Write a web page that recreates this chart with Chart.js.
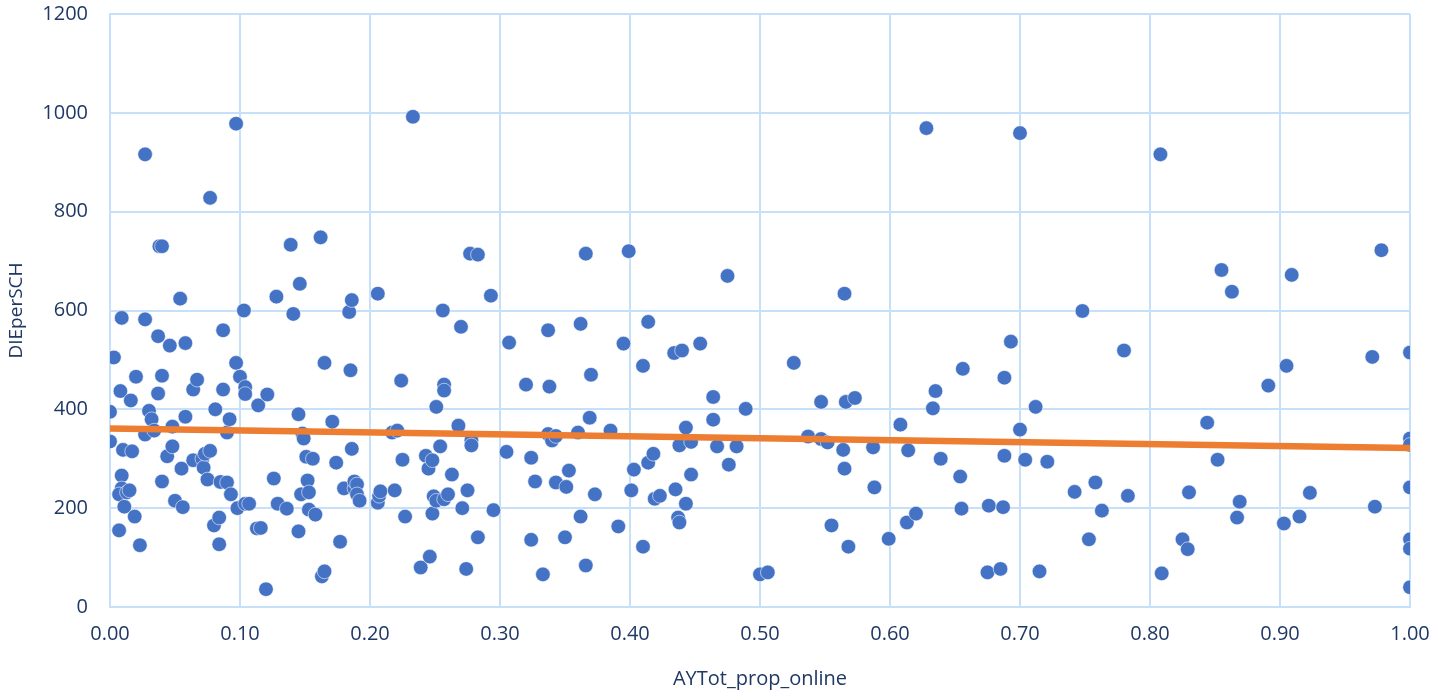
<!DOCTYPE html>
<html>
<head>
<meta charset="utf-8">
<script src="https://cdn.jsdelivr.net/npm/chart.js@4"></script>
<style>
  html, body { margin: 0; padding: 0; background: #fff; }
  #wrap { width: 1432px; height: 693px; }
</style>
</head>
<body>
<div id="wrap"><canvas id="chart" width="1432" height="693"></canvas></div>
<script>
// AYTot_prop_online values (x) and DIEperSCH values (y)
const propOnline = [
    0.000, 0.000, 0.003, 0.009, 0.008, 0.009, 0.007, 0.010, 0.009, 0.007, 0.011, 0.013, 0.015, 0.016, 0.017, 0.019, 0.020, 0.023, 0.027, 0.027,
    0.027, 0.030, 0.032, 0.034, 0.037, 0.037, 0.038, 0.040, 0.040, 0.040, 0.044, 0.046, 0.048, 0.048, 0.050, 0.054, 0.055, 0.056, 0.058, 0.058,
    0.064, 0.064, 0.067, 0.071, 0.072, 0.073, 0.075, 0.077, 0.077, 0.080, 0.081, 0.084, 0.084, 0.085, 0.087, 0.087, 0.090, 0.090, 0.092, 0.093,
    0.097, 0.097, 0.098,
    0.100, 0.103, 0.104, 0.104, 0.104, 0.107, 0.113, 0.114, 0.116, 0.120, 0.121, 0.126, 0.128, 0.129, 0.136, 0.139, 0.141, 0.145, 0.145, 0.146,
    0.147, 0.148, 0.149, 0.151, 0.152, 0.153, 0.153, 0.156, 0.158, 0.162, 0.163, 0.165, 0.165, 0.171, 0.174, 0.177, 0.180, 0.184, 0.186, 0.185,
    0.186, 0.188, 0.188, 0.190, 0.190, 0.192,
    0.206, 0.206, 0.207, 0.208, 0.217, 0.219, 0.221, 0.224, 0.225, 0.227, 0.233, 0.239, 0.243, 0.245, 0.246, 0.248, 0.248, 0.249, 0.251, 0.251,
    0.254, 0.256, 0.257, 0.257, 0.257, 0.260, 0.263, 0.268, 0.270, 0.271, 0.274, 0.275, 0.277, 0.278, 0.278, 0.283, 0.283, 0.293, 0.295,
    0.305, 0.307, 0.320, 0.324, 0.324, 0.327, 0.333, 0.337, 0.337, 0.338, 0.340, 0.343, 0.343, 0.350, 0.351, 0.353, 0.360, 0.362, 0.362, 0.366,
    0.366, 0.369, 0.370, 0.373, 0.385, 0.391, 0.395, 0.399,
    0.401, 0.403, 0.410, 0.410, 0.414, 0.414, 0.418, 0.419, 0.423, 0.434, 0.435, 0.437, 0.438, 0.438, 0.440, 0.443, 0.443, 0.447, 0.447, 0.454,
    0.464, 0.464, 0.467, 0.475, 0.476, 0.482, 0.489,
    0.500, 0.506, 0.526, 0.537, 0.547, 0.547, 0.552, 0.555, 0.564, 0.565, 0.565, 0.566, 0.568, 0.573, 0.587, 0.588, 0.599,
    0.608, 0.613, 0.614, 0.620, 0.628, 0.633, 0.635, 0.639, 0.654, 0.656, 0.655, 0.675, 0.676, 0.685, 0.687, 0.688, 0.688, 0.693, 0.700, 0.700,
    0.704, 0.712, 0.715, 0.721, 0.742, 0.748, 0.753, 0.758, 0.763, 0.780, 0.783,
    0.808, 0.809, 0.825, 0.829, 0.830, 0.844, 0.852, 0.855, 0.863, 0.867, 0.869, 0.891,
    0.903, 0.905, 0.909, 0.915, 0.923, 0.971, 0.973, 0.978, 1.000, 1.000, 1.000, 1.000, 1.000, 1.000, 1.000
];
const diePerSch = [
    395, 335, 505, 585, 437, 266, 155, 318, 240, 228, 203, 232, 236, 418, 315, 183, 466, 125, 582, 349,
    916, 397, 380, 357, 548, 432, 730, 730, 468, 254, 305, 529, 365, 325, 215, 624, 280, 202, 385, 534,
    297, 440, 460, 300, 282, 310, 258, 828, 316, 165, 400, 127, 181, 253, 560, 440, 252, 353, 380, 228,
    978, 494, 200,
    466, 600, 445, 431, 209, 209, 159, 408, 160, 36, 430, 260, 628, 209, 199, 733, 593, 390, 153, 654,
    228, 351, 341, 304, 256, 197, 232, 300, 187, 748, 62, 72, 494, 375, 292, 132, 240, 597, 621, 479,
    320, 240, 254, 248, 228, 215,
    634, 211, 225, 234, 353, 236, 357, 458, 298, 183, 992, 80, 306, 280, 102, 189, 297, 224, 405, 215,
    325, 600, 450, 438, 218, 228, 268, 367, 567, 200, 77, 236, 715, 337, 327, 713, 141, 630, 196,
    314, 535, 450, 136, 302, 254, 66, 560, 350, 446, 337, 252, 346, 141, 243, 276, 353, 573, 183, 715,
    84, 383, 470, 228, 357, 163, 533, 720,
    236, 278, 488, 122, 577, 292, 310, 219, 225, 514, 238, 181, 171, 327, 519, 363, 209, 268, 334, 533,
    425, 379, 325, 670, 288, 325, 401,
    66, 70, 494, 345, 415, 340, 333, 165, 318, 280, 634, 415, 122, 423, 323, 242, 138,
    369, 171, 317, 189, 969, 402, 437, 300, 264, 482, 199, 70, 205, 77, 202, 464, 306, 537, 959, 359,
    298, 405, 72, 294, 233, 599, 137, 252, 195, 519, 225,
    916, 68, 137, 117, 232, 373, 298, 682, 638, 181, 213, 448,
    169, 488, 672, 183, 231, 506, 203, 722, 515, 341, 328, 242, 137, 118, 40
];
// linear trend line end points
const trendX = [0, 1];
const trendY = [361, 322];

const textColor = "#1F3864";
const gridColor = "#C6E0FA";

const points = propOnline.map((x, i) => ({ x: x, y: diePerSch[i] }));
const trend = trendX.map((x, i) => ({ x: x, y: trendY[i] }));

const ctx = document.getElementById("chart").getContext("2d");
new Chart(ctx, {
    type: "scatter",
    data: {
        datasets: [
            {
                label: "DIEperSCH",
                data: points,
                backgroundColor: "#4472C4",
                borderColor: "rgba(255,255,255,0.7)",
                borderWidth: 0.8,
                pointRadius: 7.3,
                order: 2
            },
            {
                label: "Linear (DIEperSCH)",
                type: "line",
                data: trend,
                borderColor: "#ED7D31",
                borderWidth: 6.5,
                pointRadius: 0,
                fill: false,
                order: 1
            }
        ]
    },
    options: {
        responsive: false,
        animation: false,
        layout: { padding: { top: 14, right: 22, left: 0, bottom: 0 } },
        plugins: {
            legend: { display: false },
            tooltip: { enabled: false }
        },
        scales: {
            x: {
                type: "linear",
                min: 0,
                max: 1,
                afterFit: s => { s.height = 86; s.paddingLeft = 0; s.paddingRight = 0; },
                grid: { color: gridColor, lineWidth: 2, drawTicks: false },
                border: { color: gridColor, width: 2 },
                ticks: {
                    stepSize: 0.1,
                    padding: 15,
                    color: textColor,
                    font: { family: "Open Sans", size: 20 },
                    callback: v => Number(v).toFixed(2)
                },
                title: {
                    display: true,
                    text: "AYTot_prop_online",
                    color: textColor,
                    font: { family: "Open Sans", size: 20 },
                    padding: { top: 6, bottom: 2 }
                }
            },
            y: {
                min: 0,
                max: 1200,
                afterFit: s => { s.width = 110; s.paddingTop = 0; s.paddingBottom = 0; },
                grid: { color: gridColor, lineWidth: 2, drawTicks: false },
                border: { color: gridColor, width: 2 },
                ticks: {
                    stepSize: 200,
                    padding: 22,
                    color: textColor,
                    font: { family: "Open Sans", size: 20 },
                    callback: v => String(v)
                },
                title: {
                    display: true,
                    text: "DIEperSCH",
                    color: textColor,
                    font: { family: "Open Sans", size: 19 },
                    padding: { top: 5, bottom: 0 }
                }
            }
        }
    }
});
</script>
</body>
</html>
